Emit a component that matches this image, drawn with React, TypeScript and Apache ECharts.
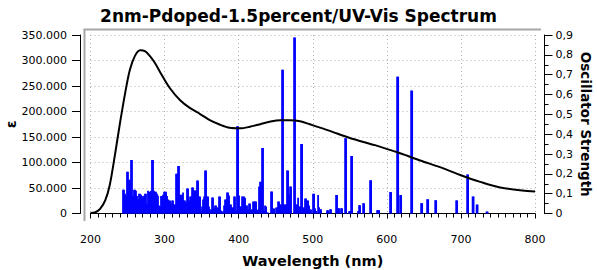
import React, { useEffect, useRef } from "react";
import * as echarts from "echarts";

const TITLE = "2nm-Pdoped-1.5percent/UV-Vis Spectrum";
const X_NAME = "Wavelength (nm)";
const Y_LEFT_NAME = "ε";
const Y_RIGHT_NAME = "Oscillator Strength";

// Absorption curve (epsilon)
const curveNm = [200, 206, 213, 220, 226, 233, 240, 247, 253, 260, 267, 274, 280, 287, 294, 307, 321, 334, 348, 361, 375, 388, 402, 415, 429, 442, 456, 469, 483, 496, 523, 550, 584, 618, 645, 679, 699, 726, 753, 800];
const curveEps = [1000, 2000, 9000, 26000, 56000, 115000, 179000, 238000, 281000, 309000, 320000, 318000, 309000, 295000, 277000, 246000, 222000, 207000, 195000, 183000, 174000, 168000, 167000, 170000, 175000, 180000, 183000, 183000, 181000, 175000, 162000, 148000, 134000, 118000, 104000, 87000, 75500, 62000, 51000, 43000];

// Oscillator strength sticks
const stickNm = [
  243.9, 245.2, 246.6, 247.9, 249.3, 250.6, 252.0, 253.3, 254.7, 256.0, 257.4, 258.7, 260.1, 261.4, 262.8, 264.1, 265.5, 266.8, 268.2, 269.5,
  270.9, 272.2, 273.6, 274.9, 276.3, 277.6, 279.0, 280.3, 281.7, 283.0, 284.4, 285.7, 287.1, 288.4, 289.8, 291.1, 292.5, 293.9, 295.2, 296.6,
  297.9, 299.3, 300.6, 302.0, 303.3, 304.7, 306.0, 307.4, 308.7, 310.1, 311.4, 312.8, 314.1, 315.5, 316.8, 318.2, 319.5, 320.9, 322.2, 323.6,
  324.9, 326.3, 327.6, 329.0, 330.3, 331.7, 333.0, 334.4, 335.7, 337.1, 338.4, 339.8, 341.1, 342.5, 343.8, 345.2, 346.5, 347.9, 349.2, 350.6,
  351.9, 353.3, 354.6, 356.0, 357.3, 358.7, 360.0, 361.4, 362.7, 364.1, 365.4, 366.8, 368.1, 369.5, 370.8, 372.2, 373.5, 374.9, 376.2, 377.6,
  378.9, 380.3, 381.6, 383.0, 384.3, 385.7, 387.0, 388.4, 389.7, 391.1, 392.4, 393.8, 395.1, 396.5, 397.8, 399.2, 400.5, 401.9, 403.2, 404.6,
  405.9, 407.3, 408.6, 410.0, 411.3, 412.7, 414.0, 415.4, 416.7, 418.1, 419.4, 420.8, 422.1, 423.5, 424.8, 426.2, 427.5, 428.9, 430.2, 431.6,
  432.9, 434.3, 435.6, 437.0, 438.3, 439.7, 443.7, 445.1, 446.4, 447.8, 450.5, 451.8, 453.2, 454.5, 455.9, 457.2, 458.6, 459.9, 461.3, 462.6,
  464.0, 465.3, 466.7, 468.0, 469.4, 470.7, 474.8, 476.1, 477.5, 478.8, 480.2, 481.5, 482.9, 484.2, 485.6, 486.9, 488.3, 489.6, 491.0, 492.3,
  493.7, 495.0, 496.4, 497.7, 500.4, 501.8, 503.1, 504.5, 507.2, 508.5, 509.9, 511.2, 519.3, 520.7, 523.4, 524.7, 531.5, 532.8, 534.2, 535.5,
  538.2, 539.6, 543.7, 545.0, 549.1, 550.4, 551.8, 553.1, 561.2, 562.6, 563.9, 568.0, 569.3, 577.4, 578.8, 586.9, 588.2, 589.6, 604.4, 605.8,
  613.9, 615.3, 618.0, 619.3, 632.8, 634.2, 646.3, 647.7, 654.4, 655.8, 665.3, 666.6, 693.6, 694.9, 708.4, 709.7, 715.8, 717.1, 721.2, 722.5,
  734.6, 736.0,
];
const stickF = [
  0.12, 0.12, 0.10, 0.09, 0.21, 0.21, 0.17, 0.17, 0.27, 0.27, 0.09, 0.12, 0.12, 0.115, 0.088, 0.07, 0.10, 0.10, 0.095, 0.088,
  0.08, 0.09, 0.10, 0.10, 0.05, 0.115, 0.11, 0.11, 0.115, 0.27, 0.27, 0.115, 0.11, 0.11, 0.10, 0.09, 0.04, 0.035, 0.088, 0.088,
  0.095, 0.11, 0.11, 0.11, 0.088, 0.07, 0.065, 0.065, 0.05, 0.065, 0.065, 0.045, 0.045, 0.20, 0.20, 0.24, 0.24, 0.095, 0.095, 0.095,
  0.106, 0.066, 0.066, 0.056, 0.126, 0.126, 0.066, 0.086, 0.086, 0.131, 0.131, 0.116, 0.116, 0.116, 0.167, 0.167, 0.086, 0.086, 0.015, 0.035,
  0.07, 0.086, 0.217, 0.217, 0.086, 0.086, 0.035, 0.02, 0.02, 0.081, 0.081, 0.025, 0.04, 0.04, 0.03, 0.03, 0.086, 0.086, 0.015, 0.01,
  0.01, 0.04, 0.07, 0.07, 0.106, 0.106, 0.091, 0.045, 0.045, 0.03, 0.03, 0.086, 0.086, 0.015, 0.44, 0.44, 0.091, 0.035, 0.035, 0.086,
  0.086, 0.086, 0.08, 0.04, 0.04, 0.02, 0.05, 0.05, 0.02, 0.02, 0.06, 0.06, 0.06, 0.06, 0.015, 0.02, 0.136, 0.16, 0.16, 0.33,
  0.33, 0.015, 0.04, 0.035, 0.005, 0.005, 0.111, 0.111, 0.025, 0.025, 0.03, 0.03, 0.06, 0.06, 0.045, 0.045, 0.725, 0.725, 0.045, 0.045,
  0.045, 0.217, 0.217, 0.096, 0.136, 0.136, 0.887, 0.887, 0.045, 0.045, 0.08, 0.035, 0.035, 0.35, 0.35, 0.03, 0.03, 0.076, 0.076, 0.066,
  0.066, 0.04, 0.02, 0.02, 0.10, 0.10, 0.027, 0.012, 0.093, 0.032, 0.022, 0.022, 0.017, 0.017, 0.022, 0.022, 0.093, 0.093, 0.027, 0.027,
  0.027, 0.027, 0.38, 0.38, 0.012, 0.012, 0.29, 0.29, 0.012, 0.042, 0.042, 0.052, 0.052, 0.168, 0.168, 0.017, 0.017, 0.017, 0.108, 0.108,
  0.69, 0.69, 0.093, 0.093, 0.62, 0.62, 0.052, 0.052, 0.072, 0.072, 0.067, 0.067, 0.066, 0.066, 0.197, 0.197, 0.086, 0.086, 0.045, 0.045,
  0.01, 0.01,
];

const FONT = "DejaVu Sans";

function fmtThousands(v: number): string {
  return String(Math.round(v)).replace(/\B(?=(\d{3})+(?!\d))/g, ".");
}
function fmtComma(v: number): string {
  if (Math.abs(v) < 1e-9) return "0";
  return v.toFixed(1).replace(".", ",");
}

export default function App() {
  const ref = useRef<HTMLDivElement>(null);
  useEffect(() => {
    if (!ref.current) return;
    const chart = echarts.init(ref.current, undefined, { renderer: "svg" });
    const gridLeft = 90.5;
    const gridTop = 35;
    const gridW = 444.5;
    const gridH = 178.5;
    const dotted = { color: "#b0b0b0", width: 1, type: [1, 3] as any };
    chart.setOption({
      animation: false,
      backgroundColor: "#ffffff",
      title: {
        text: TITLE,
        left: "center",
        top: 2,
        textStyle: { fontFamily: FONT, fontSize: 17, fontWeight: "bold", color: "#000" },
      },
      grid: {
        left: gridLeft,
        top: gridTop,
        width: gridW,
        height: gridH,
        containLabel: false,
        outerBoundsMode: "none",
      },
      xAxis: {
        type: "value",
        min: 200,
        max: 800,
        interval: 100,
        offset: 10.5,
        axisLine: { show: true, lineStyle: { color: "#000", width: 1 } },
        axisTick: { show: true, length: 5, lineStyle: { color: "#000" } },
        minorTick: { show: true, splitNumber: 10, length: 4, lineStyle: { color: "#000" } },
        splitLine: { show: true, lineStyle: dotted },
        axisLabel: { margin: 10, fontFamily: FONT, fontSize: 11, color: "#000" },
        name: X_NAME,
        nameLocation: "middle",
        nameGap: 29,
        nameMoveOverlap: false,
        nameTextStyle: { fontFamily: FONT, fontSize: 14.5, fontWeight: "bold", color: "#000" },
      },
      yAxis: [
        {
          type: "value",
          position: "left",
          min: 0,
          max: 350000,
          interval: 50000,
          offset: 10.5,
          axisLine: { show: true, lineStyle: { color: "#000", width: 1 } },
          axisTick: { show: true, length: 8, lineStyle: { color: "#000" } },
          splitLine: { show: true, lineStyle: dotted },
          axisLabel: { margin: 13, fontFamily: FONT, fontSize: 11, color: "#000", formatter: fmtThousands },
          name: Y_LEFT_NAME,
          nameLocation: "middle",
          nameRotate: 90,
          nameGap: 62,
          nameMoveOverlap: false,
          nameTextStyle: { fontFamily: FONT, fontSize: 14, fontWeight: "bold", color: "#000" },
        },
        {
          type: "value",
          position: "right",
          min: 0,
          max: 0.9,
          interval: 0.1,
          offset: 9.5,
          axisLine: { show: true, lineStyle: { color: "#000", width: 1 } },
          axisTick: { show: true, length: 8, lineStyle: { color: "#000" } },
          minorTick: { show: true, splitNumber: 2, length: 4, lineStyle: { color: "#000" } },
          splitLine: { show: false },
          axisLabel: { margin: 11, fontFamily: FONT, fontSize: 11, color: "#000", formatter: fmtComma },
          name: Y_RIGHT_NAME,
          nameLocation: "middle",
          nameRotate: -90,
          nameGap: 34,
          nameMoveOverlap: false,
          nameTextStyle: { fontFamily: FONT, fontSize: 13.5, fontWeight: "bold", color: "#000" },
        },
      ],
      graphic: [
        {
          type: "line",
          silent: true,
          shape: { x1: 84.5, y1: 221, x2: 84.5, y2: 29 },
          style: { stroke: "#a8a8a8", lineWidth: 2 },
          z: 0,
        },
        {
          type: "line",
          silent: true,
          shape: { x1: 83.5, y1: 29.5, x2: 541, y2: 29.5 },
          style: { stroke: "#a8a8a8", lineWidth: 2 },
          z: 0,
        },
      ],
      series: [
        {
          type: "bar",
          xAxisIndex: 0,
          yAxisIndex: 1,
          barWidth: 1.8,
          itemStyle: { color: "#0000ff" },
          data: stickNm.map((nm, i) => [nm, stickF[i]]),
          z: 2,
        },
        {
          type: "line",
          xAxisIndex: 0,
          yAxisIndex: 0,
          smooth: 0.3,
          showSymbol: false,
          symbol: "none",
          lineStyle: { color: "#000", width: 2 },
          data: curveNm.map((nm, i) => [nm, curveEps[i]]),
          z: 3,
        },
      ],
    });
    return () => chart.dispose();
  }, []);
  return (
    <div
      ref={ref}
      style={{ position: "fixed", left: 0, top: 0, width: 597, height: 270, background: "#fff" }}
    />
  );
}
